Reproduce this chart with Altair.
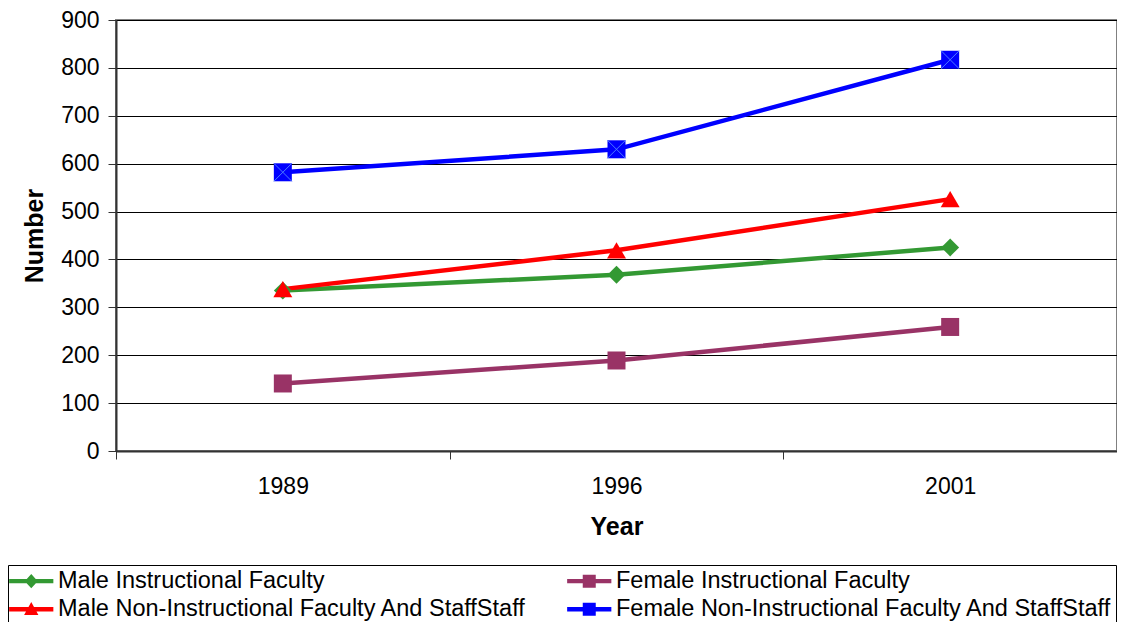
import altair as alt
import pandas as pd

years = ["1989", "1996", "2001"]
series_names = [
    "Male Instructional Faculty",
    "Female Instructional Faculty",
    "Male Non-Instructional Faculty And StaffStaff",
    "Female Non-Instructional Faculty And StaffStaff",
]
male_instructional = [335, 368, 425]
female_instructional = [141, 189, 259]
male_non_instructional = [338, 419, 526]
female_non_instructional = [582, 630, 817]

colors = ["#339933", "#993366", "#ff0000", "#0000ff"]
marker_shapes = ["diamond", "square", "triangle-up", "square"]
marker_sizes = [320, 324, 360, 324]
legend_paths = [
    "M-3.4,-0.33H3.4V0.33H-3.4Z M0,-1.1L1,0L0,1.1L-1,0Z",
    "M-3.4,-0.33H3.4V0.33H-3.4Z M-1,-1H1V1H-1Z",
    "M-3.4,-0.33H3.4V0.33H-3.4Z M0,-1.1L1.1,0.9H-1.1Z",
    "M-3.4,-0.33H3.4V0.33H-3.4Z M-1,-1H1V1H-1Z",
]

rows = []
for name, vals in zip(series_names, [male_instructional, female_instructional,
                                     male_non_instructional, female_non_instructional]):
    for yr, v in zip(years, vals):
        rows.append({"year": yr, "series": name, "value": v})
df = pd.DataFrame(rows)

# legend fills column by column: order so rows read left-to-right like the original
legend_order = [0, 2, 1, 3]
dom = [series_names[i] for i in legend_order]
rng = [colors[i] for i in legend_order]
paths = [legend_paths[i] for i in legend_order]

FONT = "Liberation Sans"
W, H = 1001, 431
TOP = 12

x_enc = alt.X(
    "year:O",
    sort=years,
    scale=alt.Scale(type="band", paddingInner=0, paddingOuter=0),
    axis=alt.Axis(
        title="Year", titleX=W / 2, titleY=83, titleBaseline="alphabetic",
        titleAlign="center", titleFontSize=25, titleFontWeight="bold", titleColor="black",
        labelAngle=0, labelFontSize=23, labelColor="black", labelPadding=16,
        tickBand="extent", tickSize=8, tickColor="#333333", tickWidth=1,
        grid=False, domainColor="#333333", domainWidth=2,
    ),
)
y_enc = alt.Y(
    "value:Q",
    scale=alt.Scale(domain=[0, 900], nice=False),
    axis=alt.Axis(
        values=list(range(0, 901, 100)), title="Number",
        titleX=-74, titleY=H / 2, titleAngle=270, titleBaseline="alphabetic",
        titleAlign="center", titleFontSize=25, titleFontWeight="bold", titleColor="black",
        labelFontSize=23, labelColor="black", labelPadding=9,
        tickSize=8, tickColor="#333333", tickWidth=1,
        domainColor="#333333", domainWidth=2,
        grid=True, gridColor="#000000", gridWidth=1,
    ),
)
color_scale = alt.Scale(domain=dom, range=rng)

leg = alt.Legend(
    title=None, orient="none", legendX=-108, legendY=565 - 8 - TOP, columns=2,
    symbolSize=169, symbolOffset=7.5, labelOffset=15,
    labelFont=FONT, labelFontSize=23.5, labelColor="black", labelLimit=700,
    strokeColor="black", fillColor="white", padding=4, rowPadding=3.5,
    columnPadding=40, symbolStrokeWidth=0, symbolOpacity=1,
)

# Legend layer first so its legend settings win when legends are merged
legend_layer = (
    alt.Chart(df)
    .mark_point(filled=True, opacity=0)
    .encode(
        x=x_enc, y=y_enc,
        color=alt.Color("series:N", scale=color_scale, legend=leg),
        shape=alt.Shape("series:N", scale=alt.Scale(domain=dom, range=paths), legend=leg),
    )
)

base = alt.Chart(df).encode(
    x=x_enc, y=y_enc,
    color=alt.Color("series:N", scale=color_scale, legend=None),
)

lines = base.mark_line(strokeWidth=4.5)

layers = [legend_layer, lines]
for name, shp, sz in zip(series_names, marker_shapes, marker_sizes):
    layers.append(
        base.transform_filter(alt.datum.series == name)
        .mark_point(shape=shp, filled=True, size=sz, opacity=1)
    )

layers.append(
    base.transform_filter(alt.datum.series == series_names[3])
    .mark_point(shape="M-1,-1L1,1M-1,1L1,-1", filled=False, size=324,
                strokeWidth=1, opacity=1)
    .encode(color=alt.value("#4d79ff"))
)

chart = (
    alt.layer(*layers)
    .properties(
        width=W, height=H,
        autosize=alt.AutoSizeParams(type="none"),
        padding={"left": 108, "top": TOP, "right": 0, "bottom": 614 - TOP - H},
        background="white",
    )
    .configure_axis(labelFont=FONT, titleFont=FONT)
    .configure_legend(labelFont=FONT)
    .configure_view(stroke="#808080", strokeWidth=2)
)

chart.save("out.html", embed_options={"renderer": "svg", "actions": False})
